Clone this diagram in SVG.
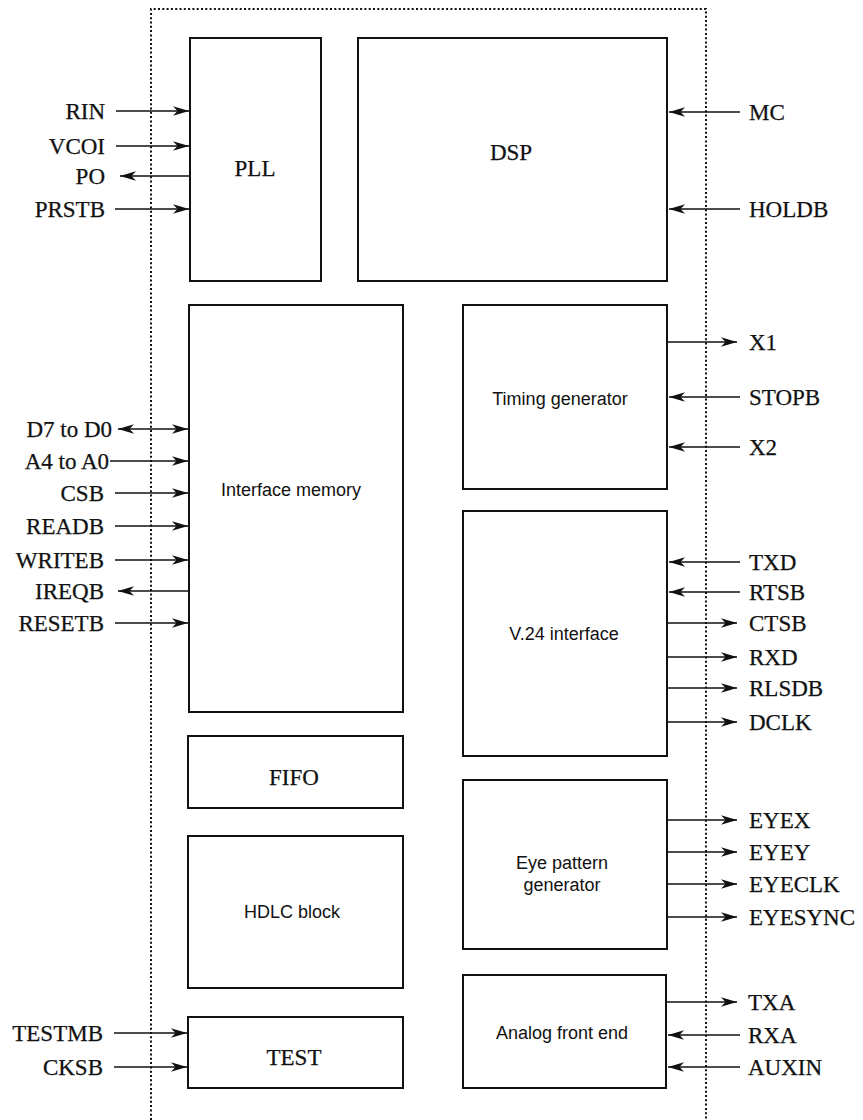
<svg xmlns="http://www.w3.org/2000/svg" width="863" height="1120" viewBox="0 0 863 1120">
<style>
.box{fill:#fff;stroke:#111;stroke-width:2}
.frame{fill:none;stroke:#111;stroke-width:2;stroke-dasharray:2 2.3}
.w{stroke:#111;stroke-width:1.6;fill:none}
.in{marker-end:url(#ah)}
.bi{marker-start:url(#ahs);marker-end:url(#ah)}
.ser{font-family:"Liberation Serif","Times New Roman",serif;font-size:23px;fill:#111;stroke:#111;stroke-width:0.25}
.san{font-family:"Liberation Sans",Arial,sans-serif;font-size:18px;fill:#111;text-anchor:middle}
.r{text-anchor:end}
.c{text-anchor:middle}
</style>
<defs>
<marker id="ah" markerUnits="userSpaceOnUse" markerWidth="17" markerHeight="12" refX="16" refY="5" orient="auto">
<path d="M0,0.3 L16,5 L0,9.7 L4.5,5 z" fill="#111"/>
</marker>
<marker id="ahs" markerUnits="userSpaceOnUse" markerWidth="17" markerHeight="12" refX="16" refY="5" orient="auto-start-reverse">
<path d="M0,0.3 L16,5 L0,9.7 L4.5,5 z" fill="#111"/>
</marker>
</defs>
<rect width="863" height="1120" fill="#fff"/>
<path class="frame" d="M151,1120 L151,9 L706,9 L706,1120"/>

<g id="pll"><rect class="box" x="190" y="38" width="131" height="243"/><text class="ser c" x="255" y="176">PLL</text></g>
<g id="dsp"><rect class="box" x="358" y="38" width="309" height="243"/><text class="ser c" x="511" y="160">DSP</text></g>
<g id="interface-memory"><rect class="box" x="189" y="305" width="214" height="407"/><text class="san" x="291" y="496">Interface memory</text></g>
<g id="fifo"><rect class="box" x="188" y="736" width="215" height="72"/><text class="ser c" x="294" y="785">FIFO</text></g>
<g id="hdlc"><rect class="box" x="188" y="836" width="215" height="152"/><text class="san" x="292" y="918">HDLC block</text></g>
<g id="test"><rect class="box" x="188" y="1017" width="215" height="71"/><text class="ser c" x="294" y="1065">TEST</text></g>
<g id="timing"><rect class="box" x="463" y="305" width="204" height="184"/><text class="san" x="560" y="405">Timing generator</text></g>
<g id="v24"><rect class="box" x="463" y="511" width="204" height="245"/><text class="san" x="564" y="640">V.24 interface</text></g>
<g id="eye"><rect class="box" x="463" y="780" width="204" height="169"/><text class="san" x="562" y="869">Eye pattern</text><text class="san" x="562" y="891">generator</text></g>
<g id="afe"><rect class="box" x="463" y="975" width="203" height="113"/><text class="san" x="562" y="1039">Analog front end</text></g>

<g id="connectors">
<line class="w in" x1="116" y1="111" x2="189" y2="111"/>
<line class="w in" x1="116" y1="146" x2="189" y2="146"/>
<line class="w in" x1="190" y1="176" x2="120" y2="176"/>
<line class="w in" x1="115" y1="209" x2="189" y2="209"/>
<line class="w in" x1="740" y1="112" x2="669" y2="112"/>
<line class="w in" x1="740" y1="209" x2="669" y2="209"/>
<line class="w bi" x1="118" y1="429" x2="188" y2="429"/>
<line class="w in" x1="110" y1="461" x2="188" y2="461"/>
<line class="w in" x1="115" y1="493" x2="188" y2="493"/>
<line class="w in" x1="115" y1="526" x2="188" y2="526"/>
<line class="w in" x1="115" y1="560" x2="188" y2="560"/>
<line class="w in" x1="189" y1="591" x2="118" y2="591"/>
<line class="w in" x1="115" y1="623" x2="188" y2="623"/>
<line class="w in" x1="114" y1="1033" x2="187" y2="1033"/>
<line class="w in" x1="114" y1="1067" x2="187" y2="1067"/>
<line class="w in" x1="667" y1="342" x2="737" y2="342"/>
<line class="w in" x1="740" y1="397" x2="669" y2="397"/>
<line class="w in" x1="740" y1="447" x2="669" y2="447"/>
<line class="w in" x1="740" y1="562" x2="669" y2="562"/>
<line class="w in" x1="740" y1="592" x2="669" y2="592"/>
<line class="w in" x1="667" y1="623" x2="737" y2="623"/>
<line class="w in" x1="667" y1="657" x2="737" y2="657"/>
<line class="w in" x1="667" y1="688" x2="737" y2="688"/>
<line class="w in" x1="667" y1="722" x2="737" y2="722"/>
<line class="w in" x1="667" y1="820" x2="737" y2="820"/>
<line class="w in" x1="667" y1="852" x2="737" y2="852"/>
<line class="w in" x1="667" y1="884" x2="737" y2="884"/>
<line class="w in" x1="667" y1="917" x2="737" y2="917"/>
<line class="w in" x1="666" y1="1002" x2="737" y2="1002"/>
<line class="w in" x1="740" y1="1035" x2="668" y2="1035"/>
<line class="w in" x1="740" y1="1067" x2="668" y2="1067"/>
</g>

<g id="labels">
<text class="ser r" x="105" y="119">RIN</text>
<text class="ser r" x="105" y="154">VCOI</text>
<text class="ser r" x="105" y="184">PO</text>
<text class="ser r" x="105" y="217">PRSTB</text>
<text class="ser" x="749" y="120">MC</text>
<text class="ser" x="749" y="217">HOLDB</text>
<text class="ser r" x="112" y="437">D7 to D0</text>
<text class="ser r" x="109" y="469">A4 to A0</text>
<text class="ser r" x="104" y="501">CSB</text>
<text class="ser r" x="104" y="534">READB</text>
<text class="ser r" x="104" y="568">WRITEB</text>
<text class="ser r" x="104" y="599">IREQB</text>
<text class="ser r" x="104" y="631">RESETB</text>
<text class="ser r" x="103" y="1041">TESTMB</text>
<text class="ser r" x="103" y="1075">CKSB</text>
<text class="ser" x="749" y="350">X1</text>
<text class="ser" x="749" y="405">STOPB</text>
<text class="ser" x="749" y="455">X2</text>
<text class="ser" x="749" y="570">TXD</text>
<text class="ser" x="749" y="600">RTSB</text>
<text class="ser" x="749" y="631">CTSB</text>
<text class="ser" x="749" y="665">RXD</text>
<text class="ser" x="749" y="696">RLSDB</text>
<text class="ser" x="749" y="730">DCLK</text>
<text class="ser" x="749" y="828">EYEX</text>
<text class="ser" x="749" y="860">EYEY</text>
<text class="ser" x="749" y="892">EYECLK</text>
<text class="ser" x="749" y="925">EYESYNC</text>
<text class="ser" x="748" y="1010">TXA</text>
<text class="ser" x="748" y="1043">RXA</text>
<text class="ser" x="748" y="1075">AUXIN</text>
</g>
</svg>
